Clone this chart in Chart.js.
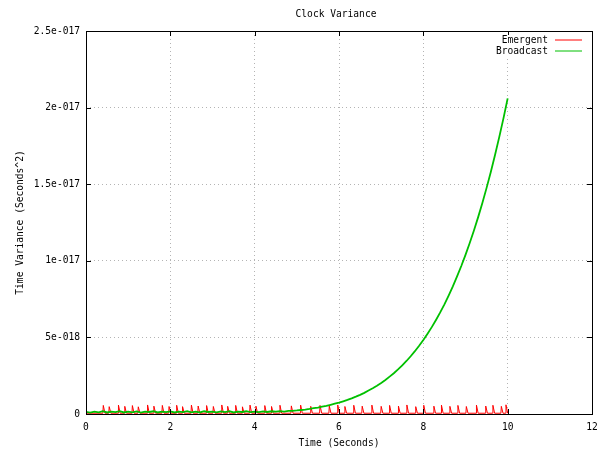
<!DOCTYPE html>
<html>
<head>
<meta charset="utf-8">
<title>Clock Variance</title>
<script src="https://cdn.jsdelivr.net/npm/chart.js@4.4.1/dist/chart.umd.min.js"></script>
<style>
  html, body { margin: 0; padding: 0; background: #ffffff; }
  canvas { display: block; }
</style>
</head>
<body>
<canvas id="chart" width="604" height="449"></canvas>
<script>
// Variance values are stored in units of 1e-19 s^2
const UNIT = 1e-19;

const chartTitle = 'Clock Variance';
const xTitle = 'Time (Seconds)';
const yTitle = 'Time Variance (Seconds^2)';

const xTickValues = [0, 2, 4, 6, 8, 10, 12];
const xTickLabels = ['0', '2', '4', '6', '8', '10', '12'];
const yTickValues = [0, 5e-18, 1e-17, 1.5e-17, 2e-17, 2.5e-17];
const yTickLabels = ['0', '5e-018', '1e-017', '1.5e-017', '2e-017', '2.5e-017'];

const seriesNames = ['Emergent', 'Broadcast'];
const seriesColors = ['#ff0000', '#00c000'];

// Emergent: low floor with a short burst at each resync instant
const emergentBase = 0.5;
const emergentPeakTimes = [
  0.41, 0.55, 0.77, 0.92, 1.10, 1.24, 1.46, 1.61, 1.81, 1.97,
  2.15, 2.29, 2.50, 2.66, 2.86, 3.02, 3.22, 3.36, 3.55, 3.71,
  3.89, 4.03, 4.24, 4.40, 4.60, 4.87, 5.09, 5.33, 5.55, 5.77,
  5.97, 6.14, 6.35, 6.55, 6.78, 7.00, 7.20, 7.41, 7.61, 7.82,
  8.01, 8.25, 8.43, 8.63, 8.82, 9.02, 9.26, 9.48, 9.65, 9.85,
  9.96
];
const emergentPeakValues = [
  5.6, 4.8, 5.8, 5.0, 5.5, 4.7, 5.9, 5.1, 5.6, 4.9,
  5.7, 4.8, 5.8, 5.2, 5.5, 4.9, 5.9, 5.0, 5.6, 4.7,
  5.8, 5.1, 5.5, 4.9, 5.7, 5.3, 5.8, 5.0, 5.6, 5.2,
  5.9, 4.9, 5.7, 5.1, 5.8, 5.0, 5.6, 5.2, 5.9, 4.8,
  5.7, 5.1, 5.8, 5.0, 5.6, 4.9, 5.8, 5.2, 5.7, 5.0,
  6.0
];

// Broadcast: sampled every 0.1 s from 0 to 10 s
const broadcastStep = 0.1;
const broadcastValues = [
  1.4, 0.9, 1.6, 1.1, 1.8, 1.0, 1.5, 1.2, 1.9, 1.0,
  1.6, 1.1, 1.7, 0.9, 1.5, 1.3, 1.8, 1.0, 1.6, 1.2,
  1.7, 1.0, 1.5, 1.2, 1.9, 1.1, 1.6, 1.0, 1.8, 1.3,
  1.5, 1.1, 1.7, 1.2, 1.9, 1.0, 1.6, 1.3, 1.8, 1.2,
  1.6, 1.2, 1.7, 1.3, 1.8, 1.5, 1.9, 1.6, 2.0, 2.1,
  2.3, 2.6, 2.9, 3.3, 3.8, 4.2, 4.8, 5.3, 6.0, 6.7,
  7.4, 8.3, 9.2, 10.2, 11.3, 12.5, 13.8, 15.3, 16.8, 18.5,
  20.3, 22.2, 24.4, 26.6, 29.1, 31.8, 34.6, 37.7, 41.0, 44.5,
  48.3, 52.4, 56.7, 61.4, 66.3, 71.6, 77.3, 83.3, 89.8, 96.6,
  103.9, 111.6, 119.8, 128.5, 137.8, 147.6, 158.0, 169.0, 180.7, 193.0,
  206.0
];

// Line vertices for the emergent bursts: quick rise, slightly slower fall
const emergentPoints = [{ x: 0, y: emergentBase * UNIT }];
emergentPeakTimes.forEach((t, i) => {
  emergentPoints.push(
    { x: t - 0.01, y: emergentBase * UNIT },
    { x: t, y: emergentPeakValues[i] * UNIT },
    { x: Math.min(t + 0.04, 10), y: emergentBase * UNIT }
  );
});
const broadcastPoints = broadcastValues.map((v, i) => ({
  x: Math.round(i * broadcastStep * 10) / 10,
  y: v * UNIT
}));

const FONT_FAMILY = "'DejaVu Sans Mono', monospace";
const FONT_SIZE = 9.6;
const font = { family: FONT_FAMILY, size: FONT_SIZE, lineHeight: 1.2 };

// Frame, inward tick marks, key and title drawn over the plot
const framePlugin = {
  id: 'gnuFrame',
  afterDatasetsDraw(chart) {
    const { ctx, chartArea: a, scales } = chart;
    const L = Math.round(a.left), R = Math.round(a.right);
    const T = Math.round(a.top), B = Math.round(a.bottom);
    const tick = 5;
    ctx.save();
    ctx.strokeStyle = '#000000';
    ctx.lineWidth = 1;
    ctx.setLineDash([]);
    ctx.beginPath();
    xTickValues.forEach(v => {
      const px = Math.round(scales.x.getPixelForValue(v)) + 0.5;
      ctx.moveTo(px, B); ctx.lineTo(px, B - tick);
      ctx.moveTo(px, T); ctx.lineTo(px, T + tick);
    });
    yTickValues.forEach(v => {
      const py = Math.round(scales.y.getPixelForValue(v)) + 0.5;
      ctx.moveTo(L, py); ctx.lineTo(L + tick, py);
      ctx.moveTo(R, py); ctx.lineTo(R - tick, py);
    });
    ctx.stroke();
    ctx.strokeRect(L + 0.5, T + 0.5, R - L, B - T);

    // key, top right inside the frame
    const textRight = R - 44;
    const lineStart = R - 37, lineEnd = R - 10;
    ctx.fillStyle = '#ffffff';
    ctx.fillRect(textRight - 56, T + 4, R - 4 - (textRight - 56), 22);
    ctx.font = FONT_SIZE + 'px ' + FONT_FAMILY;
    ctx.textAlign = 'right';
    ctx.textBaseline = 'middle';
    seriesNames.forEach((name, i) => {
      const y = T + 9 + i * 11;
      ctx.fillStyle = '#000000';
      ctx.fillText(name, textRight, y);
      ctx.strokeStyle = seriesColors[i];
      ctx.beginPath();
      ctx.moveTo(lineStart, y);
      ctx.lineTo(lineEnd, y);
      ctx.stroke();
    });

    // title
    ctx.fillStyle = '#000000';
    ctx.textAlign = 'center';
    ctx.fillText(chartTitle, (a.left + a.right) / 2 - 3, 14);
    ctx.restore();
  }
};

new Chart(document.getElementById('chart').getContext('2d'), {
  type: 'line',
  data: {
    datasets: [
      {
        label: seriesNames[0],
        data: emergentPoints,
        borderColor: seriesColors[0],
        borderWidth: 1,
        pointRadius: 0,
        fill: false,
        order: 1
      },
      {
        label: seriesNames[1],
        data: broadcastPoints,
        borderColor: seriesColors[1],
        borderWidth: 1.8,
        pointRadius: 0,
        fill: false,
        order: 0
      }
    ]
  },
  options: {
    responsive: false,
    animation: false,
    devicePixelRatio: 1,
    layout: { padding: { top: 31, right: 12, left: 0, bottom: 0 } },
    elements: { line: { tension: 0 } },
    plugins: {
      legend: { display: false },
      title: { display: false },
      tooltip: { enabled: false }
    },
    scales: {
      x: {
        type: 'linear',
        min: 0,
        max: 12,
        afterBuildTicks: s => { s.ticks = xTickValues.map(v => ({ value: v })); },
        afterFit: s => { s.height = 35; s.paddingLeft = 0; s.paddingRight = 0; },
        ticks: {
          callback: (v, i) => xTickLabels[i],
          font: font,
          color: '#000000',
          padding: 8,
          maxRotation: 0,
          autoSkip: false
        },
        grid: { color: '#b4b4b4', lineWidth: 1, drawTicks: false },
        border: { display: false, dash: [1, 3] },
        title: {
          display: true,
          text: xTitle,
          font: font,
          color: '#000000',
          padding: { top: 0, bottom: 0 }
        }
      },
      y: {
        type: 'linear',
        min: 0,
        max: 2.5e-17,
        afterBuildTicks: s => { s.ticks = yTickValues.map(v => ({ value: v })); },
        afterFit: s => { s.width = 86; s.paddingTop = 0; s.paddingBottom = 0; },
        ticks: {
          callback: (v, i) => yTickLabels[i],
          font: font,
          color: '#000000',
          padding: 6,
          autoSkip: false
        },
        grid: { color: '#b4b4b4', lineWidth: 1, drawTicks: false },
        border: { display: false, dash: [1, 3] },
        title: {
          display: true,
          text: yTitle,
          font: font,
          color: '#000000',
          padding: { top: 15, bottom: 0 }
        }
      }
    }
  },
  plugins: [framePlugin]
});
</script>
</body>
</html>
